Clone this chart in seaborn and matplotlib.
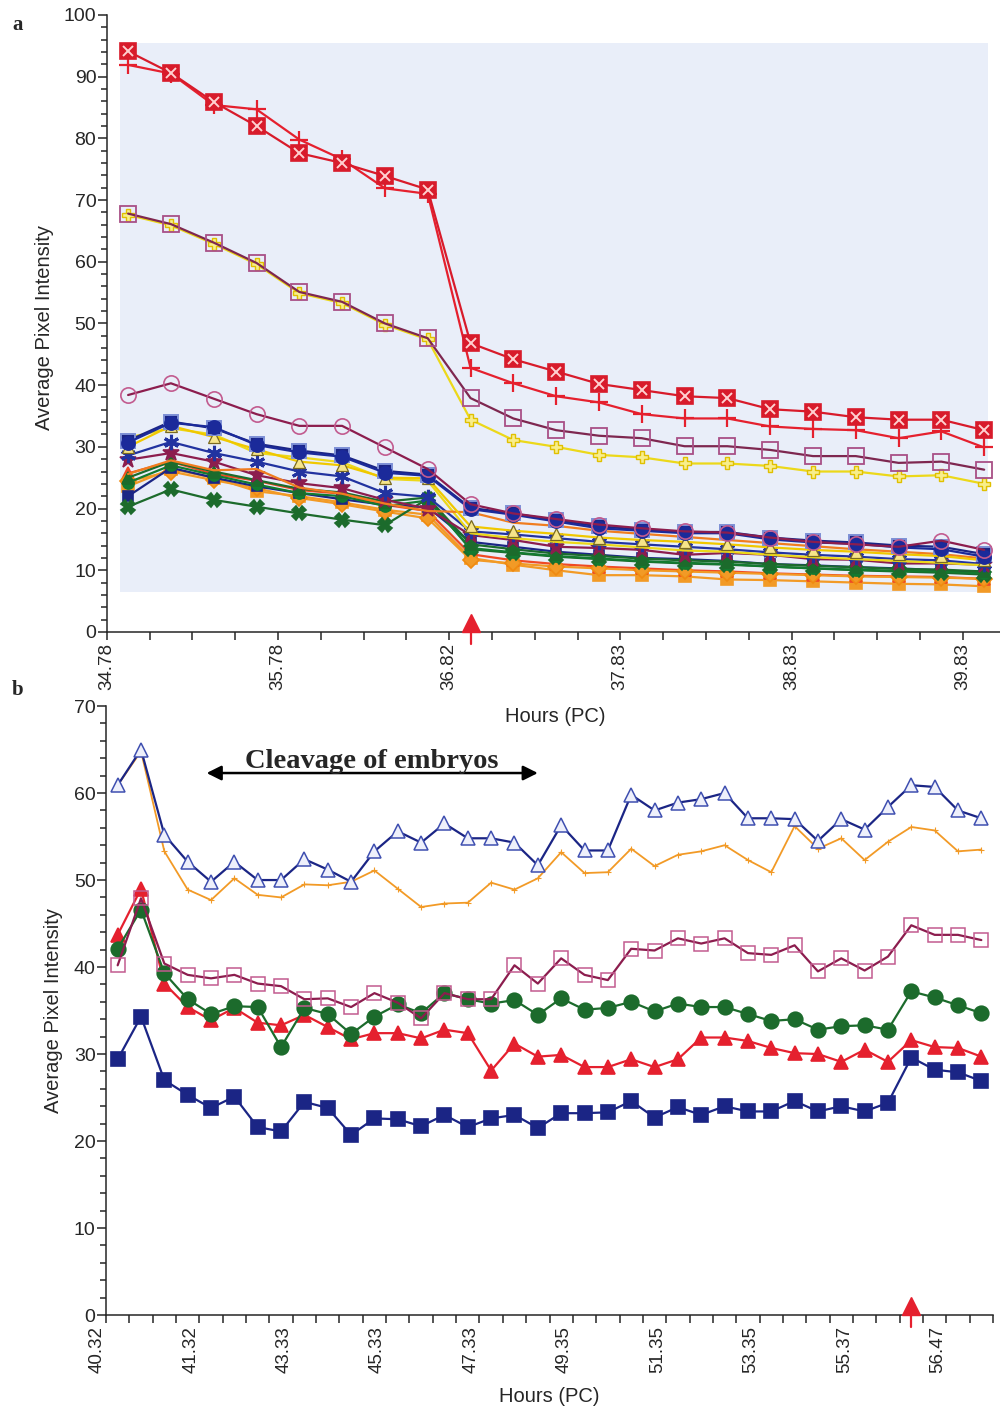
import numpy as np
import pandas as pd
import matplotlib
matplotlib.use("Agg")
import matplotlib.pyplot as plt
from matplotlib.patches import Rectangle
from matplotlib.ticker import MultipleLocator
import seaborn as sns

# ------------------------------------------------------------------
# Panel a: 21 imaging slots, 34.78 - 39.83 h post coitum
# ------------------------------------------------------------------
a_tick_labels = ["34.78", "35.78", "36.82", "37.83", "38.83", "39.83"]
a_onset_slot = 8

a_red_xsq = [94.1, 90.6, 85.9, 82.0, 77.6, 76.0, 73.9, 71.7, 46.8, 44.2, 42.2,
             40.2, 39.2, 38.2, 37.9, 36.1, 35.7, 34.8, 34.4, 34.4, 32.7]
a_red_plus = [91.9, 90.5, 85.4, 84.7, 79.8, 76.6, 71.9, 71.0, 42.8, 40.3, 38.2,
              37.2, 35.3, 34.6, 34.6, 33.3, 32.9, 32.7, 31.4, 32.5, 29.9]
a_yellow_cross = [67.6, 65.9, 62.9, 59.6, 54.9, 53.3, 49.8, 47.4, 34.4, 31.1, 30.0,
                  28.7, 28.3, 27.3, 27.3, 26.9, 26.0, 26.0, 25.2, 25.4, 24.0]
a_maroon_sq = [67.8, 66.1, 63.1, 59.8, 55.1, 53.5, 50.0, 47.6, 37.9, 34.6, 32.7,
               31.8, 31.4, 30.1, 30.1, 29.5, 28.5, 28.5, 27.4, 27.6, 26.3]
a_maroon_circ = [38.4, 40.3, 37.8, 35.3, 33.4, 33.4, 29.9, 26.4, 20.7, 19.2, 18.3,
                 17.4, 16.8, 16.3, 16.1, 15.3, 14.6, 14.2, 13.8, 14.8, 13.3]
a_navy_circ = [30.7, 33.9, 33.2, 30.3, 29.1, 28.4, 25.8, 25.3, 19.9, 19.0, 17.9,
               16.8, 16.4, 16.0, 16.0, 15.0, 14.5, 14.3, 13.7, 13.4, 12.2]
a_navy_sq_open = [31.0, 34.1, 33.0, 30.5, 29.4, 28.6, 26.1, 25.5, 20.1, 19.2, 18.1,
                  17.1, 16.6, 16.2, 16.2, 15.3, 14.8, 14.5, 14.0, 13.8, 12.6]
a_yellow_tri = [30.0, 33.4, 31.6, 29.6, 27.6, 27.0, 25.0, 24.9, 17.1, 16.4, 15.9,
                15.3, 14.9, 14.6, 14.2, 13.7, 13.3, 13.0, 12.6, 12.3, 11.6]
a_orange_line = [25.6, 27.8, 26.2, 26.4, 23.4, 22.4, 20.8, 19.6, 19.4, 17.7, 17.2,
                 16.4, 15.9, 15.4, 14.9, 14.4, 13.9, 13.4, 13.0, 12.6, 11.9]
a_yellow_line = [31.5, 33.0, 32.0, 29.0, 28.3, 27.5, 24.8, 24.5, 16.0, 15.2, 14.6,
                 14.2, 13.7, 13.2, 13.0, 12.5, 12.1, 11.8, 11.5, 11.2, 10.8]
a_navy_star = [28.6, 30.8, 29.0, 27.6, 26.0, 25.2, 22.5, 21.9, 16.3, 15.8, 15.2,
               14.6, 14.2, 13.8, 13.4, 12.9, 12.5, 12.2, 11.8, 11.6, 11.0]
a_maroon_star = [27.9, 29.0, 27.6, 25.4, 24.1, 23.3, 21.4, 20.0, 15.7, 14.9, 13.8,
                 13.6, 13.3, 12.5, 12.8, 12.5, 11.8, 11.7, 11.1, 11.1, 10.9]
a_green_tri = [25.0, 27.6, 26.0, 24.6, 23.2, 22.6, 21.1, 21.8, 14.2, 13.4, 12.7,
               12.3, 11.9, 11.6, 11.4, 11.0, 10.7, 10.5, 10.2, 10.1, 9.8]
a_green_circ = [24.2, 27.0, 25.4, 23.9, 22.5, 22.0, 20.4, 21.3, 13.6, 12.9, 12.3,
                11.9, 11.5, 11.2, 11.0, 10.6, 10.3, 10.1, 9.9, 9.8, 9.5]
a_orange_diam = [24.4, 26.0, 24.6, 23.3, 21.7, 20.7, 19.5, 18.4, 11.7, 11.1, 10.6,
                 10.3, 10.0, 9.8, 9.6, 9.4, 9.2, 9.0, 8.9, 8.8, 8.6]
a_orange_sq = [23.6, 26.4, 25.0, 22.8, 22.0, 21.0, 19.8, 19.0, 12.0, 10.9, 10.0,
               9.2, 9.2, 9.0, 8.5, 8.4, 8.2, 8.0, 7.8, 7.7, 7.4]
a_green_x = [20.3, 23.1, 21.4, 20.3, 19.2, 18.2, 17.3, 21.6, 13.4, 12.8, 12.2,
             11.8, 11.4, 11.1, 10.9, 10.6, 10.3, 10.0, 9.8, 9.6, 9.3]
a_red_tri = [25.7, 27.6, 25.6, 24.5, 23.0, 22.4, 20.6, 19.6, 12.6, 11.6, 11.0,
             10.6, 10.3, 10.0, 9.8, 9.5, 9.3, 9.1, 9.0, 8.9, 8.6]
a_navy_sq = [22.0, 26.6, 25.0, 23.6, 22.5, 21.5, 20.6, 20.2, 14.6, 13.8, 13.0,
             12.5, 12.0, 11.8, 11.5, 11.0, 10.8, 10.5, 10.3, 10.0, 9.6]

# ------------------------------------------------------------------
# Panel b: 38 imaging slots, 40.32 - 56.47 h post coitum
# ------------------------------------------------------------------
b_tick_labels = ["40.32", "41.32", "43.33", "45.33", "47.33",
                 "49.35", "51.35", "53.35", "55.37", "56.47"]
b_onset_slot = 34
b_cleavage = (4.31, 18.5)   # slot span of the cleavage window

b_blue_tri = [60.9, 65.0, 55.2, 52.1, 49.8, 52.1, 50.0, 50.0, 52.4, 51.2,
              49.8, 53.3, 55.6, 54.3, 56.5, 54.8, 54.8, 54.3, 51.7, 56.3,
              53.4, 53.4, 59.8, 58.0, 58.9, 59.3, 60.0, 57.1, 57.1, 57.0,
              54.5, 57.0, 55.8, 58.4, 60.9, 60.7, 58.0, 57.1]
b_orange = [60.9, 64.8, 53.3, 48.9, 47.7, 50.2, 48.3, 48.0, 49.5, 49.4,
            49.8, 51.1, 49.0, 46.9, 47.3, 47.4, 49.7, 48.9, 50.2, 53.2,
            50.8, 50.9, 53.6, 51.6, 52.9, 53.3, 54.0, 52.3, 50.9, 56.2,
            53.6, 54.8, 52.3, 54.4, 56.1, 55.7, 53.3, 53.5]
b_maroon_sq = [40.2, 47.9, 40.4, 39.1, 38.7, 39.1, 38.1, 37.8, 36.3, 36.4,
               35.4, 37.0, 35.9, 34.1, 37.0, 36.3, 36.3, 40.2, 38.1, 41.0,
               39.1, 38.5, 42.1, 41.9, 43.3, 42.7, 43.3, 41.6, 41.4, 42.5,
               39.5, 41.0, 39.6, 41.2, 44.8, 43.7, 43.7, 43.1]
b_green_circ = [42.1, 46.6, 39.3, 36.3, 34.6, 35.5, 35.4, 30.8, 35.3, 34.6,
                32.3, 34.3, 35.7, 34.7, 37.0, 36.3, 35.8, 36.2, 34.5, 36.4,
                35.1, 35.3, 36.0, 34.9, 35.8, 35.4, 35.4, 34.6, 33.8, 34.0,
                32.8, 33.2, 33.3, 32.8, 37.2, 36.5, 35.6, 34.7]
b_red_tri = [43.7, 49.0, 38.1, 35.4, 33.9, 35.3, 33.6, 33.3, 34.5, 33.1,
             31.7, 32.4, 32.4, 31.8, 32.8, 32.4, 28.1, 31.2, 29.7, 29.9,
             28.5, 28.5, 29.4, 28.5, 29.4, 31.9, 31.9, 31.5, 30.7, 30.1,
             30.0, 29.1, 30.5, 29.1, 31.6, 30.8, 30.7, 29.7]
b_blue_sq = [29.4, 34.3, 27.0, 25.3, 23.8, 25.1, 21.6, 21.1, 24.5, 23.8,
             20.7, 22.6, 22.5, 21.7, 23.0, 21.6, 22.6, 23.0, 21.5, 23.2,
             23.2, 23.3, 24.6, 22.7, 23.9, 23.0, 24.0, 23.4, 23.4, 24.6,
             23.4, 24.0, 23.4, 24.4, 29.6, 28.2, 27.9, 26.9]

# ------------------------------------------------------------------
NAVY = "#1b2585"
RED = "#e5202e"
MAROON = "#8c1d4e"
PINK = "#c25b8f"
GREEN = "#1c6b2c"
ORANGE = "#f29a26"
YELLOW = "#ecd81a"
LIGHTBLUE = "#7d8fd6"

TICK_FS = 14
XTICK_FS = 13.5
LABEL_FS = 14.5

sns.set_style("ticks")
plt.rcParams["font.family"] = ["Liberation Sans", "DejaVu Sans"]
plt.rcParams["axes.linewidth"] = 1.1

fig = plt.figure(figsize=(10, 14.09), dpi=100)
ax_a = fig.add_axes([0.1067, 0.5515, 0.8933, 0.4379])
ax_b = fig.add_axes([0.106, 0.0667, 0.887, 0.4322])


def draw(ax, values, color, marker=None, ms=8, mfc=None, mec=None, lw=1.6,
         mew=1.2, z=3):
    df = pd.DataFrame({"slot": np.arange(len(values)) + 0.5, "value": values})
    sns.lineplot(data=df, x="slot", y="value", ax=ax, color=color,
                 marker=marker, markersize=ms,
                 markerfacecolor=color if mfc is None else mfc,
                 markeredgecolor=color if mec is None else mec,
                 markeredgewidth=mew, linewidth=lw, estimator=None,
                 sort=False, zorder=z, legend=False)


def overlay(ax, values, marker, color, ms, mew=1.2, z=4):
    df = pd.DataFrame({"slot": np.arange(len(values)) + 0.5, "value": values})
    sns.lineplot(data=df, x="slot", y="value", ax=ax, color=color,
                 marker=marker, markersize=ms, markerfacecolor=color,
                 markeredgecolor=color, markeredgewidth=mew, linewidth=0,
                 estimator=None, sort=False, zorder=z, legend=False)


def style_axes(ax, n_slots, labels, label_every, ymax, ha):
    ax.set_xlim(0, n_slots)
    ax.set_ylim(0, ymax)
    ticks = np.arange(0, int(np.floor(n_slots)) + 1)
    tick_text = [labels[i // label_every] if i % label_every == 0 and
                 i // label_every < len(labels) else "" for i in ticks]
    ax.set_xticks(ticks)
    ax.set_xticklabels(tick_text, rotation=90, ha=ha, fontsize=XTICK_FS)
    ax.yaxis.set_major_locator(MultipleLocator(10))
    ax.yaxis.set_minor_locator(MultipleLocator(2))
    ax.tick_params(axis="y", which="major", length=6.5, width=1.1,
                   labelsize=TICK_FS, pad=1)
    ax.tick_params(axis="y", which="minor", length=4.5, width=1.1)
    ax.tick_params(axis="x", which="major", length=5.8, width=1.1, pad=2)
    ax.set_xlabel("")
    ax.set_ylabel("Average Pixel Intensity", fontsize=LABEL_FS)
    sns.despine(ax=ax)
    ax.set_facecolor("none")


def onset_arrow(ax, slot):
    h = ax.bbox.height
    tr = ax.get_xaxis_transform()
    ax.plot([slot, slot], [-12 / h, 6 / h], color=RED, lw=1.6,
            transform=tr, clip_on=False, zorder=6)
    ax.plot([slot], [9 / h], marker="^", ms=13.5, color=RED, mec=RED,
            transform=tr, clip_on=False, zorder=6, linestyle="none")


# ---------------- panel a ----------------
a_all = [a_red_xsq, a_red_plus, a_yellow_cross, a_maroon_sq, a_maroon_circ,
         a_navy_circ, a_navy_sq_open, a_yellow_tri, a_orange_line,
         a_yellow_line, a_navy_star, a_maroon_star, a_green_tri, a_green_circ,
         a_orange_diam, a_orange_sq, a_green_x, a_red_tri, a_navy_sq]
n_a = len(a_red_xsq)
lo = min(min(s) for s in a_all)
hi = max(max(s) for s in a_all)
ax_a.add_patch(Rectangle((0.3, lo - 0.9), n_a - 0.7, hi - lo + 2.3,
                         facecolor="#e9eef9", edgecolor="none", zorder=0))

draw(ax_a, a_orange_sq, ORANGE, "s", 8.5)
draw(ax_a, a_red_tri, "#ef4a24", "^", 8.5)
draw(ax_a, a_orange_diam, ORANGE, "D", 8, mec="#f08a10")
draw(ax_a, a_navy_sq, NAVY, "s", 7.5)
draw(ax_a, a_green_x, GREEN, "X", 9.5, mec=GREEN)
draw(ax_a, a_green_circ, "#137a30", "o", 8)
draw(ax_a, a_green_tri, GREEN, "^", 8)
draw(ax_a, a_maroon_star, MAROON, "*", 12, mec=MAROON)
draw(ax_a, a_navy_star, "#2233a0", (6, 2, 0), 11, mew=2.2)
draw(ax_a, a_yellow_line, YELLOW, None)
draw(ax_a, a_orange_line, "#f07d20", None)
draw(ax_a, a_yellow_tri, "#f0c800", "^", 8.5, mfc="#f6e58a", mec="#7a6a20",
     mew=0.9)
draw(ax_a, a_navy_sq_open, NAVY, "s", 9.5, mfc=NAVY, mec=LIGHTBLUE, mew=1.4)
draw(ax_a, a_navy_circ, "#1b2a9a", "o", 9.5)
draw(ax_a, a_maroon_circ, MAROON, "o", 11, mfc="none", mec=PINK)
draw(ax_a, a_yellow_cross, YELLOW, "P", 9, mfc="#f8ee8c", mec="#e0c000", mew=1)
draw(ax_a, a_maroon_sq, "#7e2750", "s", 11, mfc="none", mec="#a84f86", mew=1.3)
draw(ax_a, a_red_plus, RED, "+", 13, mew=1.6)
draw(ax_a, a_red_xsq, "#d81b2b", "s", 11)
overlay(ax_a, a_red_xsq, "x", "#ffd0d0", 7, mew=1.4, z=5)

style_axes(ax_a, n_a - 0.13, a_tick_labels, 4, 100, "center")
ax_a.set_xlabel("Hours (PC)", fontsize=LABEL_FS)
ax_a.xaxis.set_label_coords(0.502, -0.121)
ax_a.yaxis.set_label_coords(-0.059, 0.494)
onset_arrow(ax_a, a_onset_slot + 0.5)

# ---------------- panel b ----------------
draw(ax_b, b_blue_sq, NAVY, "s", 10)
draw(ax_b, b_red_tri, RED, "^", 10.5)
draw(ax_b, b_green_circ, GREEN, "o", 10.5)
draw(ax_b, b_maroon_sq, MAROON, "s", 10.5, mfc="none", mec=PINK, mew=1.1)
draw(ax_b, b_orange, ORANGE, "+", 5, lw=1.3, mew=0.8)
draw(ax_b, b_blue_tri, NAVY, "^", 10.5, mfc="#eef0fb", mec="#3f4fb0", mew=1.1)

n_b = len(b_blue_sq)
style_axes(ax_b, n_b, b_tick_labels, 4, 70, "right")
ax_b.set_xlabel("Hours (PC)", fontsize=LABEL_FS)
ax_b.xaxis.set_label_coords(0.5, -0.118)
ax_b.yaxis.set_label_coords(-0.048, 0.5)
onset_arrow(ax_b, b_onset_slot + 0.5)

ax_b.annotate("", xy=(b_cleavage[0], 62.3), xytext=(b_cleavage[1], 62.3),
              arrowprops=dict(arrowstyle="<|-|>", color="black", lw=1.8,
                              mutation_scale=22, shrinkA=0, shrinkB=0))
ax_b.text(sum(b_cleavage) / 2, 62.9, "Cleavage of embryos", ha="center",
          va="baseline", fontsize=20.5, fontweight="bold",
          family=["Liberation Serif", "DejaVu Serif"], zorder=7)

fig.text(0.012, 1 - 25 / 1409, "a", fontsize=15, fontweight="bold",
         family=["Liberation Serif", "DejaVu Serif"], va="center")
fig.text(0.012, 1 - 690 / 1409, "b", fontsize=15, fontweight="bold",
         family=["Liberation Serif", "DejaVu Serif"], va="center")

fig.savefig("out.png", dpi=100)
